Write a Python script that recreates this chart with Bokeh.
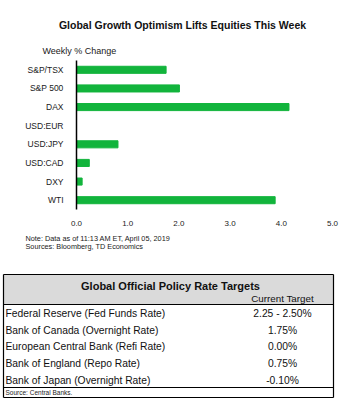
from bokeh.plotting import figure
from bokeh.models import Range1d, FactorRange, FixedTicker, NumeralTickFormatter
from bokeh.core.properties import value
from bokeh.embed import file_html
from bokeh.resources import INLINE

# ---- data ----
chart_title = "Global Growth Optimism Lifts Equities This Week"
y_caption = "Weekly % Change"
categories = ["S&P/TSX", "S&P 500", "DAX", "USD:EUR", "USD:JPY", "USD:CAD", "DXY", "WTI"]
weekly_change = [1.75, 2.01, 4.15, 0.0, 0.81, 0.25, 0.11, 3.88]
x_ticks = [0, 1, 2, 3, 4, 5]
notes = ["Note: Data as of  11:13 AM  ET,  April 05, 2019", "Sources: Bloomberg, TD Economics"]

table_title = "Global Official Policy Rate Targets"
table_col = "Current Target"
banks = ["Federal Reserve (Fed Funds Rate)", "Bank of Canada (Overnight Rate)",
         "European Central Bank (Refi Rate)", "Bank of England (Repo Rate)",
         "Bank of Japan (Overnight Rate)"]
rates = ["2.25 - 2.50%", "1.75%", "0.00%", "0.75%", "-0.10%"]
table_source = "Source: Central Banks."

W = 339
FONT = value("Liberation Sans")


def blank(h, y0, y1):
    f = figure(width=W, height=h, x_range=Range1d(0, W), y_range=Range1d(y1, y0),
               output_backend="svg", toolbar_location=None, min_border=0)
    f.axis.visible = False
    f.grid.visible = False
    f.outline_line_color = None
    return f

# ---- header ----
top = blank(60, 0, 60)
top.text(x=[182], y=[24], text=[chart_title], text_font=FONT, text_font_size="10.5px",
         text_font_style="bold", text_align="center", text_baseline="middle", text_color="#111111")
top.text(x=[42], y=[50], text=[y_caption], text_font=FONT, text_font_size="9px",
         text_align="left", text_baseline="middle", text_color="#1a1a1a")

# ---- bar chart ----
p = figure(width=W, height=170, x_range=Range1d(0, 5),
           y_range=FactorRange(factors=categories[::-1], range_padding=0),
           output_backend="svg", toolbar_location=None,
           min_border_left=76, min_border_right=7, min_border_top=0, min_border_bottom=21)
p.hbar(y=categories, left=0, right=weekly_change, height=0.38, color="#12b43c")
p.grid.visible = False
p.outline_line_color = None
p.yaxis.axis_line_color = "black"
p.yaxis.axis_line_width = 1.5
p.yaxis.major_tick_line_color = None
p.yaxis.minor_tick_line_color = None
p.yaxis.major_label_standoff = 7
p.yaxis.major_label_text_font = "Liberation Sans"
p.yaxis.major_label_text_font_size = "8.5px"
p.yaxis.major_label_text_color = "#1a1a1a"
p.xaxis.axis_line_color = None
p.xaxis.major_tick_line_color = None
p.xaxis.minor_tick_line_color = None
p.xaxis.ticker = FixedTicker(ticks=x_ticks)
p.xaxis.formatter = NumeralTickFormatter(format="0.0")
p.xaxis.major_label_standoff = 5
p.xaxis.major_label_text_font = "Liberation Sans"
p.xaxis.major_label_text_font_size = "8px"
p.xaxis.major_label_text_color = "#1a1a1a"

# ---- notes + table ----
t = blank(173, 230, 403)
t.text(x=[25, 25], y=[238, 246], text=notes, text_font=FONT, text_font_size="7.3px",
       text_align="left", text_baseline="middle", text_color="#1a1a1a")
t.quad(left=[3], right=[333], top=[274], bottom=[304], fill_color="#dadada", line_color=None)
t.segment(x0=[3, 3, 3, 3, 333], y0=[274, 304, 387, 397, 274], x1=[333, 333, 333, 333, 333],
          y1=[274, 304, 387, 397, 397], line_color="black", line_width=1.2)
t.segment(x0=[3], y0=[274], x1=[3], y1=[397], line_color="black", line_width=1.2)
t.text(x=[170], y=[285], text=[table_title], text_font=FONT, text_font_size="11px",
       text_font_style="bold", text_align="center", text_baseline="middle", text_color="#111111")
t.text(x=[282], y=[298], text=[table_col], text_font=FONT, text_font_size="9.8px",
       text_align="center", text_baseline="middle", text_color="#111111")
row_y = [313 + 16.7 * i for i in range(len(banks))]
t.text(x=[5] * len(banks), y=row_y, text=banks, text_font=FONT, text_font_size="10.3px",
       text_align="left", text_baseline="middle", text_color="#111111")
t.text(x=[282] * len(rates), y=row_y, text=rates, text_font=FONT, text_font_size="10.3px",
       text_align="center", text_baseline="middle", text_color="#111111")
t.text(x=[5], y=[392], text=[table_source], text_font=FONT, text_font_size="6.5px",
       text_align="left", text_baseline="middle", text_color="#1a1a1a")

open("out.html", "w").write(file_html([top, p, t], INLINE))
